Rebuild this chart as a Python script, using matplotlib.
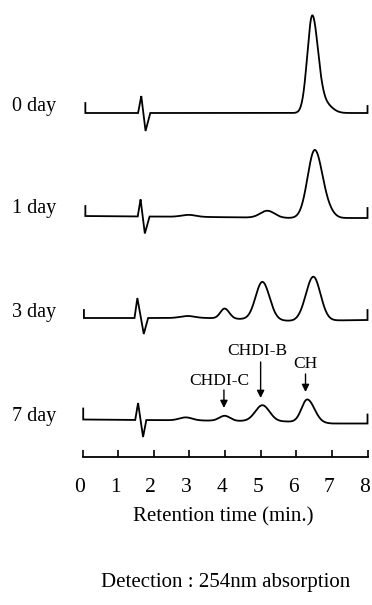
import numpy as np
import matplotlib
matplotlib.use('Agg')
import matplotlib.pyplot as plt
import matplotlib.transforms as mtransforms

plt.rcParams['font.family'] = ['Liberation Serif', 'DejaVu Serif']

# 샘플별 라벨
day_labels = ['0 day', '1 day', '3 day', '7 day']

# 피크 테이블: (retention time, height, sigma_left, sigma_right)
peaks_0 = [(6.45, 97, 0.14, 0.16), (6.80, 9, 0.15, 0.20)]
peaks_1 = [(2.98, 2, 0.20, 0.20), (5.19, 7, 0.20, 0.20),
           (6.52, 68, 0.20, 0.22), (6.95, 3, 0.15, 0.15)]
peaks_3 = [(2.95, 2, 0.20, 0.20), (3.99, 10, 0.12, 0.13),
           (5.05, 38, 0.19, 0.20), (6.48, 44, 0.21, 0.20)]
peaks_7 = [(2.90, 3, 0.18, 0.18), (3.99, 5, 0.15, 0.15),
           (5.05, 16, 0.20, 0.20), (6.31, 23, 0.16, 0.20)]

# 주입 피크(스파이크): (time, offset)
spike_0 = [(1.56, 0), (1.65, 17), (1.77, -18), (1.90, 0)]
spike_1 = [(1.55, 0), (1.63, 17), (1.75, -17), (1.88, 0)]
spike_3 = [(1.46, 0), (1.54, 20), (1.72, -16), (1.84, 0)]
spike_7 = [(1.48, 0), (1.56, 17), (1.70, -17), (1.79, 0)]

# 베이스라인 드리프트: (time, offset)
drift_0 = [(0, 0), (8, 0)]
drift_1 = [(0, 0), (3.5, -1), (5.8, -2), (8, -2)]
drift_3 = [(0, 0), (3.5, 0), (4.4, -1), (5.9, -3), (8, -2)]
drift_7 = [(0, 0), (3.3, -1), (5.7, -2), (7.0, -4), (8, -4)]

# 시작/끝 눈금 높이
start_tick = [10, 10, 8, 11]
end_tick = [7, 10, 10, 9]
start_time = [0.08, 0.08, 0.04, 0.02]

# 주석 (화살표)
annot_names = ['CHDI-C', 'CHDI-B', 'CH']
annot_time = [3.97, 5.0, 6.26]

x_ticks = [0, 1, 2, 3, 4, 5, 6, 7, 8]

W, H = 372, 605
fig = plt.figure(figsize=(W / 100, H / 100), dpi=100)
y_axis = H - 456.7
ax = fig.add_axes([82.5 / W, y_axis / H, (367.5 - 82.5) / W, (H - y_axis) / H])
ax.set_xlim(0, 8)
ax.set_ylim(y_axis, H)
ax.patch.set_alpha(0)

baselines = [H - 113, H - 216, H - 318, H - 419.5]
all_peaks = [peaks_0, peaks_1, peaks_3, peaks_7]
all_spikes = [spike_0, spike_1, spike_3, spike_7]
all_drift = [drift_0, drift_1, drift_3, drift_7]
label_y = [106, 209, 312, 416]


def trace(t, peaks, spike, drift):
    y = np.interp(t, [d[0] for d in drift], [d[1] for d in drift])
    for (c, h, sl, sr) in peaks:
        s = np.where(t < c, sl, sr)
        y = y + h * np.exp(-0.5 * ((t - c) / s) ** 2)
    st = [p[0] for p in spike]
    sv = [p[1] for p in spike]
    m = (t >= st[0]) & (t <= st[-1])
    y[m] = y[m] + np.interp(t[m], st, sv)
    return y


for i in range(4):
    t = np.linspace(start_time[i], 8.0, 1600)
    t = np.sort(np.concatenate([t, [p[0] for p in all_spikes[i]]]))
    y = baselines[i] + trace(t, all_peaks[i], all_spikes[i], all_drift[i])
    xs = np.concatenate([[t[0]], t, [t[-1]]])
    ys = np.concatenate([[y[0] + start_tick[i]], y, [y[-1] + end_tick[i]]])
    ax.plot(xs, ys, color='black', lw=1.3, solid_joinstyle='miter', clip_on=False)
    fig.text(12 / W, 1 - label_y[i] / H, day_labels[i], fontsize=14.5,
             ha='left', va='center')

# 화살표와 이름
text_y = [H - 381, H - 351, H - 364]
arrow_from = [H - 390, H - 362, H - 374]
arrow_to = [H - 408, H - 398, H - 392]
text_dx = [-0.12, -0.08, 0.0]
for name, tt, ty, a0, a1, dx in zip(annot_names, annot_time, text_y, arrow_from, arrow_to, text_dx):
    ax.text(tt + dx, ty, name, fontsize=12.5, ha='center', va='center')
    ax.annotate('', xy=(tt, a1), xytext=(tt, a0),
                arrowprops=dict(arrowstyle='-|>', color='black', lw=1.0,
                                mutation_scale=11, shrinkA=0, shrinkB=0))

for s in ['top', 'left', 'right']:
    ax.spines[s].set_visible(False)
ax.spines['bottom'].set_linewidth(1.3)
ax.set_yticks([])
ax.set_xticks(x_ticks)
ax.set_xticklabels([str(v) for v in x_ticks])
ax.tick_params(axis='x', direction='in', length=5, width=1.2, pad=15, labelsize=15.5)
shift = mtransforms.ScaledTranslation(-3 / 100, 0, fig.dpi_scale_trans)
for lab in ax.get_xticklabels():
    lab.set_transform(lab.get_transform() + shift)

fig.text(223 / W, 1 - 517 / H, 'Retention time (min.)', fontsize=15, ha='center', va='center')
fig.text(226 / W, 1 - 582 / H, 'Detection : 254nm absorption', fontsize=15, ha='center', va='center')

fig.savefig('out.png', dpi=100)
